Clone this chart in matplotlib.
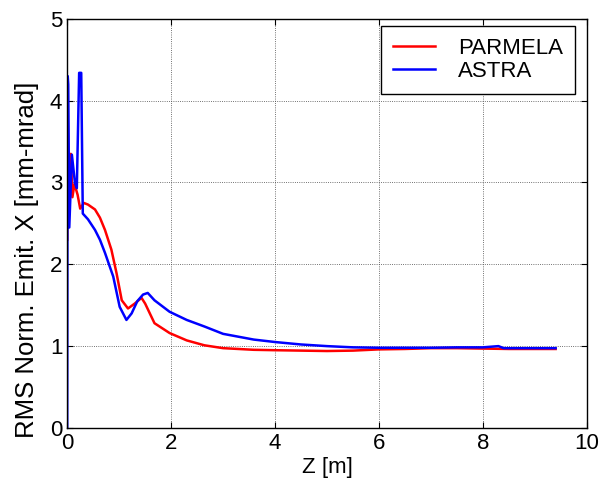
import numpy as np
import matplotlib
matplotlib.use("Agg")
import matplotlib.pyplot as plt

plt.rcParams["font.family"] = ["Liberation Sans", "DejaVu Sans"]

# PARMELA (red)
z_parmela = [0.0, 0.005, 0.03, 0.07, 0.1, 0.14, 0.2, 0.25, 0.32, 0.4, 0.535,
             0.63, 0.727, 0.85, 0.95, 1.05, 1.17, 1.3, 1.43, 1.5, 1.68, 1.97,
             2.3, 2.64, 3.0, 3.59, 4.0, 4.5, 5.0, 5.5, 6.0, 6.5, 7.0, 7.5,
             8.0, 8.5, 9.0, 9.4]
e_parmela = [2.3, 4.1, 2.6, 3.35, 2.82, 2.98, 2.85, 2.68, 2.75, 2.73, 2.67,
             2.57, 2.42, 2.18, 1.89, 1.56, 1.46, 1.52, 1.59, 1.52, 1.28, 1.16,
             1.07, 1.01, 0.975, 0.955, 0.95, 0.945, 0.94, 0.945, 0.96, 0.965,
             0.975, 0.975, 0.97, 0.965, 0.965, 0.965]

# ASTRA (blue)
z_astra = [0.0, 0.004, 0.01, 0.02, 0.04, 0.09, 0.15, 0.185, 0.23, 0.27, 0.3,
           0.4, 0.535, 0.63, 0.727, 0.886, 1.01, 1.14, 1.24, 1.35, 1.46, 1.55,
           1.68, 1.97, 2.3, 2.64, 3.0, 3.59, 4.0, 4.5, 5.0, 5.5, 6.0, 6.5,
           7.0, 7.5, 8.0, 8.3, 8.4, 9.0, 9.4]
e_astra = [0.0, 2.4, 4.3, 4.2, 2.45, 3.34, 2.99, 2.93, 4.34, 4.34, 2.62,
           2.55, 2.42, 2.3, 2.14, 1.85, 1.48, 1.32, 1.40, 1.55, 1.63, 1.65,
           1.56, 1.42, 1.32, 1.24, 1.15, 1.08, 1.05, 1.02, 1.0, 0.985, 0.98,
           0.98, 0.98, 0.985, 0.985, 1.0, 0.975, 0.975, 0.975]

fig = plt.figure(figsize=(6.0, 4.83), dpi=100)
ax = fig.add_axes([0.112, 0.114, 0.866, 0.847])

ax.plot(z_parmela, e_parmela, color="#ff0000", lw=1.8, label="PARMELA")
ax.plot(z_astra, e_astra, color="#0000ff", lw=1.8, label="ASTRA")

ax.set_xlim(0, 10)
ax.set_ylim(0, 5)
ax.set_xticks(np.arange(0, 11, 2))
ax.set_yticks(np.arange(0, 6, 1))
ax.grid(True, color="#444444", linestyle=":", linewidth=0.6)
ax.tick_params(direction="in", top=True, right=True, labelsize=16, length=4)
for s in ax.spines.values():
    s.set_linewidth(1.0)

ax.set_xlabel("Z [m]", fontsize=16, labelpad=2)
ax.set_ylabel("RMS Norm. Emit. X [mm-mrad]", fontsize=18.5, labelpad=2)
ax.yaxis.set_label_coords(-0.055, 0.41)

leg = ax.legend(loc="upper right", bbox_to_anchor=(0.977, 0.983),
                borderaxespad=0, fontsize=16, fancybox=False,
                edgecolor="black", framealpha=1, handlelength=1.9,
                handletextpad=1.0, borderpad=0.55, labelspacing=0.1)
leg.get_frame().set_linewidth(1.0)

fig.savefig("out.png", dpi=100)
